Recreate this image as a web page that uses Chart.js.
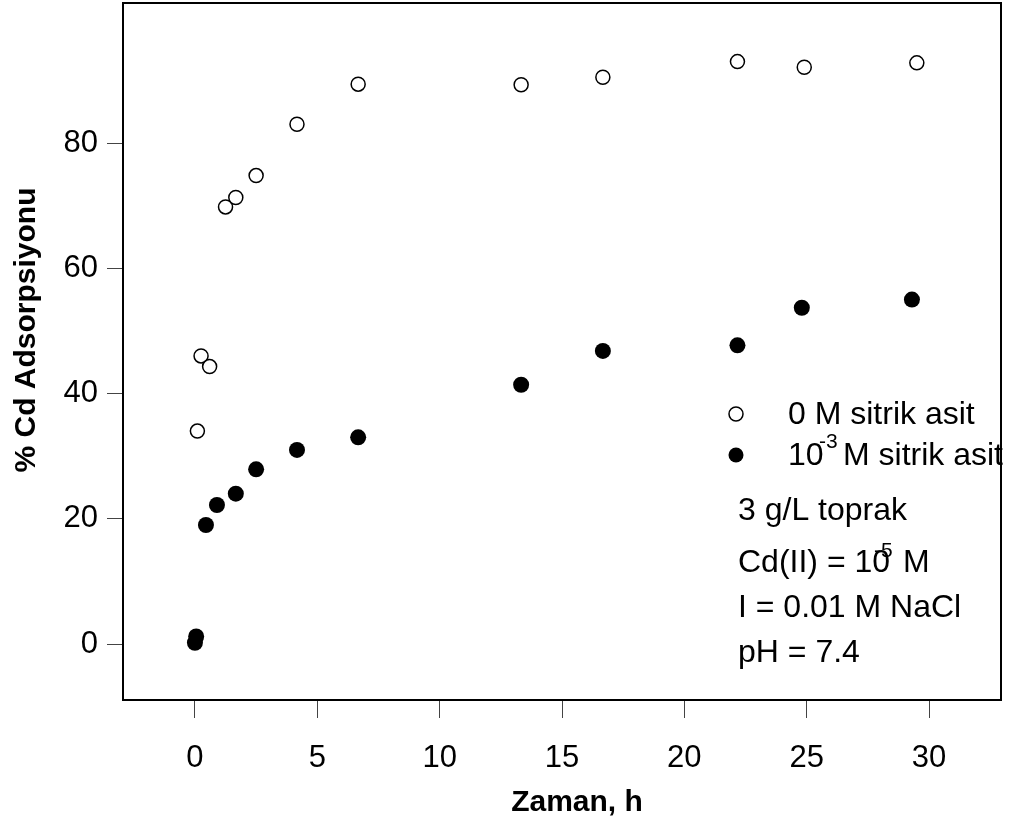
<!DOCTYPE html>
<html>
<head>
<meta charset="utf-8">
<script src="https://cdn.jsdelivr.net/npm/chart.js@4.4.1/dist/chart.umd.min.js"></script>
<style>
  html, body { margin: 0; padding: 0; background: #fff; }
  #wrap { width: 1019px; height: 829px; }
</style>
</head>
<body>
<div id="wrap"><canvas id="adsChart" width="1019" height="829"></canvas></div>
<script>
var FONT = "'Liberation Sans', Arial, sans-serif";

// contact time (h) and % Cd adsorbed
var timeNoAcid = [0.1, 0.25, 0.6, 1.25, 1.67, 2.5, 4.17, 6.67, 13.33, 16.67, 22.17, 24.9, 29.5];
var adsNoAcid  = [34.0, 46.0, 44.3, 69.8, 71.3, 74.8, 83.0, 89.4, 89.3, 90.5, 93.0, 92.1, 92.8];
var timeAcid   = [0, 0.05, 0.45, 0.9, 1.67, 2.5, 4.17, 6.67, 13.33, 16.67, 22.17, 24.8, 29.3];
var adsAcid    = [0.2, 1.2, 19.0, 22.2, 24.0, 27.9, 31.0, 33.0, 41.4, 46.8, 47.7, 53.7, 55.0];

var xTicks = [0, 5, 10, 15, 20, 25, 30];
var yTicks = [0, 20, 40, 60, 80];

var legendLabels = ['0 M sitrik asit', 'M sitrik asit'];
var conditions = ['3 g/L toprak', 'Cd(II) = 10', 'I = 0.01 M NaCl', 'pH = 7.4'];

function toPoints(xs, ys) {
  return xs.map(function (x, i) { return { x: x, y: ys[i] }; });
}

// box around the plot, legend, conditions text and axis titles
var decorations = {
  id: 'decorations',
  afterDraw: function (chart) {
    var a = chart.chartArea, c = chart.ctx;
    c.save();
    c.strokeStyle = '#000';
    c.lineWidth = 2;
    c.strokeRect(a.left, a.top, a.right - a.left, a.bottom - a.top);

    // legend
    c.lineWidth = 1.5;
    c.beginPath(); c.arc(736, 414, 7, 0, Math.PI * 2);
    c.fillStyle = '#fff'; c.fill(); c.stroke();
    c.beginPath(); c.arc(736, 455, 7.5, 0, Math.PI * 2);
    c.fillStyle = '#000'; c.fill();

    c.fillStyle = '#000';
    c.textBaseline = 'alphabetic';
    c.textAlign = 'left';
    c.font = '32px ' + FONT;
    c.fillText(legendLabels[0], 788, 424);
    c.fillText('10', 788, 465);
    c.font = '21px ' + FONT;
    c.fillText('-3', 819, 448);
    c.font = '32px ' + FONT;
    c.fillText(legendLabels[1], 843, 465);

    // experimental conditions
    c.fillText(conditions[0], 738, 520);
    c.fillText(conditions[1], 738, 572);
    c.font = '21px ' + FONT;
    c.fillText('-5', 874, 557);
    c.font = '32px ' + FONT;
    c.fillText('M', 903, 572);
    c.fillText(conditions[2], 738, 617);
    c.fillText(conditions[3], 738, 662);

    // axis titles
    c.font = 'bold 30px ' + FONT;
    c.textAlign = 'center';
    c.textBaseline = 'middle';
    c.fillText('Zaman, h', 577, 803);
    c.translate(27, 330);
    c.rotate(-Math.PI / 2);
    c.fillText('% Cd Adsorpsiyonu', 0, 0);
    c.restore();
  }
};

new Chart(document.getElementById('adsChart').getContext('2d'), {
  type: 'scatter',
  data: {
    datasets: [{
      label: legendLabels[0],
      data: toPoints(timeNoAcid, adsNoAcid),
      pointRadius: 7,
      pointBorderWidth: 1.5,
      pointBackgroundColor: '#fff',
      pointBorderColor: '#000'
    }, {
      label: '10-3 ' + legendLabels[1],
      data: toPoints(timeAcid, adsAcid),
      pointRadius: 8,
      pointBorderWidth: 0,
      pointBackgroundColor: '#000',
      pointBorderColor: '#000'
    }]
  },
  options: {
    responsive: false,
    animation: false,
    devicePixelRatio: 1,
    layout: { autoPadding: false, padding: { left: 0, top: 3, right: 18, bottom: 0 } },
    plugins: {
      legend: { display: false },
      tooltip: { enabled: false }
    },
    scales: {
      x: {
        type: 'linear',
        min: -2.94,
        max: 32.94,
        afterBuildTicks: function (s) { s.ticks = xTicks.map(function (v) { return { value: v }; }); },
        afterFit: function (s) { s.height = 129; s.paddingLeft = 0; s.paddingRight = 0; },
        border: { display: false },
        grid: { drawOnChartArea: false, drawTicks: true, tickLength: 18, tickColor: '#444', lineWidth: 1 },
        ticks: { color: '#000', padding: 22, maxRotation: 0, font: { family: FONT, size: 31 } }
      },
      y: {
        type: 'linear',
        min: -8.94,
        max: 102.36,
        afterBuildTicks: function (s) { s.ticks = yTicks.map(function (v) { return { value: v }; }); },
        afterFit: function (s) { s.width = 123; s.paddingTop = 0; s.paddingBottom = 0; },
        border: { display: false },
        grid: { drawOnChartArea: false, drawTicks: true, tickLength: 16, tickColor: '#444', lineWidth: 1 },
        ticks: { color: '#000', padding: 9, font: { family: FONT, size: 31 } }
      }
    }
  },
  plugins: [decorations]
});
</script>
</body>
</html>
